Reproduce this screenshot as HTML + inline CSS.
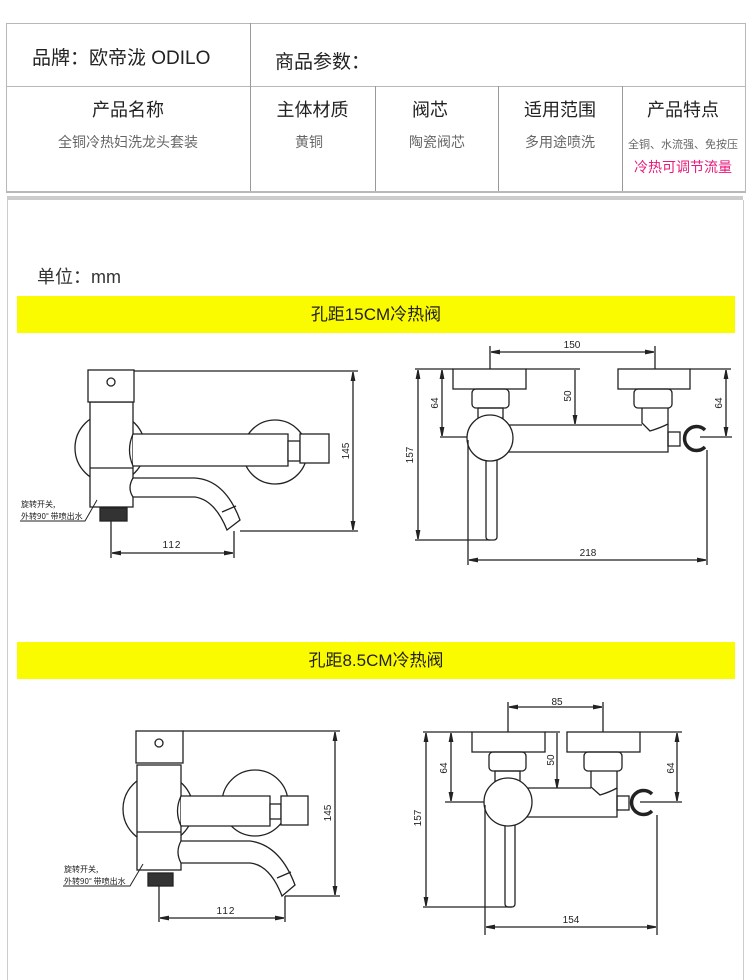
<!DOCTYPE html>
<html><head><meta charset="utf-8"><style>
body{margin:0;width:750px;height:969px;background:#fff;position:relative;overflow:hidden;font-family:"Liberation Sans","Noto Sans CJK SC",sans-serif;color:#222}
.a{position:absolute}
.t{position:absolute;text-align:center}
</style></head><body>
<!-- top table -->
<div class="a" style="left:6px;top:23px;width:738px;height:167px;border:1px solid #b8b8b8;border-width:1px 1px 2px 1px"></div>
<div class="a" style="left:6px;top:86px;width:739px;height:1px;background:#b8b8b8"></div>
<div class="a" style="left:250px;top:23px;width:1px;height:168px;background:#999"></div>
<div class="a" style="left:375px;top:86px;width:1px;height:105px;background:#999"></div>
<div class="a" style="left:498px;top:86px;width:1px;height:105px;background:#999"></div>
<div class="a" style="left:622px;top:86px;width:1px;height:105px;background:#999"></div>
<div class="a" style="left:32px;top:43px;font-size:19px">品牌：欧帝泷 ODILO</div>
<div class="a" style="left:275px;top:47px;font-size:19px">商品参数：</div>
<div class="t" style="left:6px;width:244px;top:96px;font-size:18px">产品名称</div>
<div class="t" style="left:6px;width:244px;top:132px;font-size:14px;color:#666">全铜冷热妇洗龙头套装</div>
<div class="t" style="left:250px;width:125px;top:96px;font-size:18px">主体材质</div>
<div class="t" style="left:250px;width:118px;top:132px;font-size:14px;color:#666">黄铜</div>
<div class="t" style="left:375px;width:110px;top:96px;font-size:18px">阀芯</div>
<div class="t" style="left:375px;width:124px;top:132px;font-size:14px;color:#666">陶瓷阀芯</div>
<div class="t" style="left:498px;width:124px;top:96px;font-size:18px">适用范围</div>
<div class="t" style="left:498px;width:124px;top:132px;font-size:14px;color:#666">多用途喷洗</div>
<div class="t" style="left:622px;width:122px;top:96px;font-size:18px">产品特点</div>
<div class="t" style="left:618px;width:130px;top:136px;font-size:11px;color:#666;white-space:nowrap">全铜、水流强、免按压</div>
<div class="t" style="left:622px;width:122px;top:157px;font-size:14px;color:#e8197a">冷热可调节流量</div>
<!-- panel -->
<div class="a" style="left:7px;top:196px;width:736px;height:4px;background:#ccc"></div>
<div class="a" style="left:7px;top:200px;width:735px;height:780px;border-left:1px solid #ccc;border-right:1px solid #ccc"></div>
<div class="a" style="left:37px;top:263px;font-size:18px;color:#333">单位：mm</div>
<div class="t" style="left:17px;top:296px;width:718px;height:37px;background:#fbfb00;font-size:17px;line-height:37px">孔距15CM冷热阀</div>
<div class="t" style="left:17px;top:642px;width:718px;height:37px;background:#fbfb00;font-size:17px;line-height:37px">孔距8.5CM冷热阀</div>
<svg class="a" style="left:0;top:0" width="750" height="969" font-family="Liberation Sans, sans-serif" font-size="10" fill="none" stroke="#222" stroke-width="1.3">
<defs><marker id="m" viewBox="0 0 10 10" refX="10" refY="5" markerWidth="7" markerHeight="7" orient="auto-start-reverse"><path d="M0,3L10,5L0,7z" fill="#222"/></marker></defs>
<!-- left drawing 1 -->
<g>
<circle cx="110" cy="448" r="35"/><circle cx="275" cy="452" r="32" fill="#fff"/>
<rect x="90" y="402" width="43" height="105" fill="#fff"/><line x1="90" y1="468" x2="133" y2="468"/>
<rect x="88" y="370" width="46" height="32" fill="#fff"/><circle cx="111" cy="382" r="4"/>
<path d="M133,434H288V466H133" fill="#fff"/><path d="M133,434Q126,450 133,466"/>
<rect x="288" y="441" width="12" height="20" fill="#fff"/><rect x="300" y="434" width="29" height="29" fill="#fff"/>
<path d="M133,478H195Q225,480 240,520L227,530Q215,500 195,497H133Q127,488 133,478Z" fill="#fff"/>
<line x1="222" y1="512" x2="236" y2="506"/>
<rect x="100" y="508" width="27" height="13" fill="#333"/>
<path d="M134,371H358M240,531H358M111,521V558M234,531V558"/>
<line x1="353" y1="372" x2="353" y2="530" marker-start="url(#m)" marker-end="url(#m)"/>
<line x1="112" y1="553" x2="233" y2="553" marker-start="url(#m)" marker-end="url(#m)"/>
<path d="M20,521H85L97,500" stroke-width="1"/>
</g>
<g fill="#222" stroke="none"><text x="172" y="548" text-anchor="middle" letter-spacing="1">112</text>
<text transform="translate(349,451) rotate(-90)" text-anchor="middle">145</text>
<text x="21" y="507" font-size="8" font-family="Noto Sans CJK SC,sans-serif">旋转开关,</text>
<text x="21" y="519" font-size="8" font-family="Noto Sans CJK SC,sans-serif">外转90° 带喷出水</text></g>
<!-- right drawing 1 -->
<g>
<rect x="453" y="369" width="73" height="20"/><rect x="472" y="389" width="37" height="19" rx="4"/><rect x="478" y="408" width="25" height="10"/>
<rect x="618" y="369" width="72" height="20"/><rect x="634" y="389" width="38" height="19" rx="4"/><path d="M642,408V423L650,431Q660,428 668,424V408"/>
<path d="M505,425H642M668,424V452H505"/>
<rect x="486" y="455" width="11" height="85" rx="3" fill="#fff"/>
<circle cx="490" cy="438" r="23" fill="#fff"/>
<rect x="668" y="432" width="12" height="14"/>
<path d="M705,430A12,12 0 1 0 705,447" stroke-width="3.5"/>
<path d="M415,369H453M526,369H580M690,369H731M440,437H467M700,437H732M415,540H490M468,440V565M707,450V565M490,346V369M655,346V369"/>
<line x1="491" y1="352" x2="654" y2="352" marker-start="url(#m)" marker-end="url(#m)"/>
<line x1="418" y1="370" x2="418" y2="539" marker-start="url(#m)" marker-end="url(#m)"/>
<line x1="442" y1="370" x2="442" y2="436" marker-start="url(#m)" marker-end="url(#m)"/>
<line x1="575" y1="370" x2="575" y2="424" marker-end="url(#m)"/>
<line x1="726" y1="370" x2="726" y2="436" marker-start="url(#m)" marker-end="url(#m)"/>
<line x1="469" y1="560" x2="706" y2="560" marker-start="url(#m)" marker-end="url(#m)"/>
</g>
<g fill="#222" stroke="none" text-anchor="middle"><text x="572" y="348">150</text><text x="588" y="556">218</text>
<text transform="translate(413,455) rotate(-90)">157</text><text transform="translate(438,403) rotate(-90)">64</text>
<text transform="translate(571,396) rotate(-90)">50</text><text transform="translate(722,403) rotate(-90)">64</text></g>
<!-- left drawing 2 -->
<g>
<circle cx="158" cy="809" r="35"/><circle cx="255" cy="803" r="33" fill="#fff"/>
<rect x="137" y="765" width="44" height="105" fill="#fff"/><line x1="137" y1="832" x2="181" y2="832"/>
<rect x="136" y="731" width="47" height="32" fill="#fff"/><circle cx="159" cy="743" r="4"/>
<path d="M181,796H270V826H181" fill="#fff"/><path d="M181,796Q174,811 181,826"/>
<rect x="270" y="804" width="11" height="15" fill="#fff"/><rect x="281" y="796" width="27" height="29" fill="#fff"/>
<path d="M181,841H250Q280,845 295,885L282,896Q270,865 250,863H181Q175,852 181,841Z" fill="#fff"/>
<line x1="277" y1="878" x2="291" y2="872"/>
<rect x="148" y="873" width="25" height="13" fill="#333"/>
<path d="M183,731H340M285,896H340M159,886V922M285,896V922"/>
<line x1="335" y1="732" x2="335" y2="895" marker-start="url(#m)" marker-end="url(#m)"/>
<line x1="160" y1="918" x2="284" y2="918" marker-start="url(#m)" marker-end="url(#m)"/>
<path d="M63,886H130L143,864" stroke-width="1"/>
</g>
<g fill="#222" stroke="none"><text x="226" y="914" text-anchor="middle" letter-spacing="1">112</text>
<text transform="translate(331,813) rotate(-90)" text-anchor="middle">145</text>
<text x="64" y="872" font-size="8" font-family="Noto Sans CJK SC,sans-serif">旋转开关,</text>
<text x="64" y="884" font-size="8" font-family="Noto Sans CJK SC,sans-serif">外转90° 带喷出水</text></g>
<!-- right drawing 2 -->
<g>
<rect x="472" y="732" width="73" height="20"/><rect x="489" y="752" width="37" height="19" rx="4"/><rect x="495" y="771" width="25" height="10"/>
<rect x="567" y="732" width="73" height="20"/><rect x="584" y="752" width="38" height="19" rx="4"/><path d="M591,771V787L600,795Q610,792 617,788V771"/>
<path d="M525,788H591M617,788V817H525"/>
<rect x="505" y="820" width="10" height="87" rx="3" fill="#fff"/>
<circle cx="508" cy="802" r="24" fill="#fff"/>
<rect x="617" y="796" width="12" height="14"/>
<path d="M652,794A12,12 0 1 0 652,811" stroke-width="3.5"/>
<path d="M423,732H472M545,732H560M640,732H682M445,802H484M640,802H682M423,907H512M485,805V935M657,815V935M508,702V732M603,702V732"/>
<line x1="509" y1="707" x2="602" y2="707" marker-start="url(#m)" marker-end="url(#m)"/>
<line x1="426" y1="733" x2="426" y2="906" marker-start="url(#m)" marker-end="url(#m)"/>
<line x1="451" y1="733" x2="451" y2="801" marker-start="url(#m)" marker-end="url(#m)"/>
<line x1="557" y1="733" x2="557" y2="788" marker-end="url(#m)"/>
<line x1="677" y1="733" x2="677" y2="801" marker-start="url(#m)" marker-end="url(#m)"/>
<line x1="486" y1="927" x2="656" y2="927" marker-start="url(#m)" marker-end="url(#m)"/>
</g>
<g fill="#222" stroke="none" text-anchor="middle"><text x="557" y="705">85</text><text x="571" y="923">154</text>
<text transform="translate(421,818) rotate(-90)">157</text><text transform="translate(447,768) rotate(-90)">64</text>
<text transform="translate(554,760) rotate(-90)">50</text><text transform="translate(674,768) rotate(-90)">64</text></g>
</svg>
</body></html>
